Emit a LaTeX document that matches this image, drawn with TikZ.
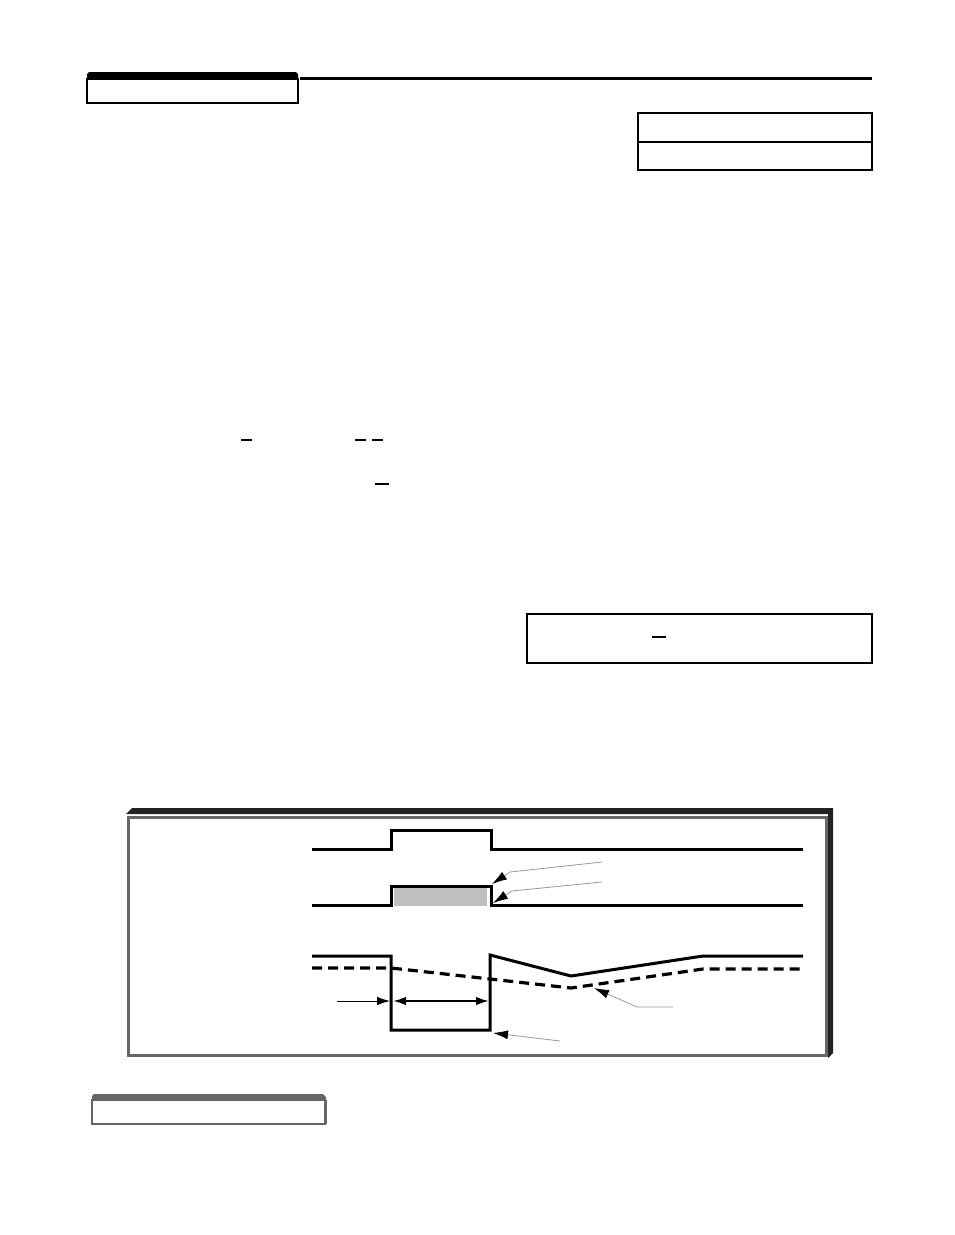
\documentclass[tikz,border=0pt]{standalone}
\usetikzlibrary{arrows.meta}
\definecolor{darkband}{HTML}{222222}
\definecolor{framegray}{HTML}{666666}
\definecolor{fillgray}{HTML}{BFBFBF}
\definecolor{leadgray}{HTML}{999999}
\begin{document}
\begin{tikzpicture}[x=1pt,y=-1pt,
  thinbox/.style={draw=black,line width=1.2},
  sig/.style={draw=black,line width=3,line join=miter},
  dashsig/.style={draw=black,line width=3.2,dash pattern=on 10 off 6},
  bar/.style={draw=black,line width=1.8},
  leader/.style={draw=leadgray,line width=0.8,-{Latex[length=15,width=9,color=black]}},
  dimarrow/.style={draw=black,line width=2,{Latex[length=13,width=8.5]}-{Latex[length=13,width=8.5]}}
]
\useasboundingbox (0,0) rectangle (954,1235);

% ---- top heading tab and rule
\fill[black] (87,79) -- (87,74) -- (89,72) -- (296,72) -- (298,74) -- (298,79) -- cycle;
\draw[thinbox] (87,79) rectangle (298,103);
\draw[line width=3] (300,78.5) -- (872,78.5);

% ---- small table at top right
\draw[thinbox] (638,113) rectangle (872,170);
\draw[thinbox] (638,142) -- (872,142);

% ---- overbars
\draw[bar] (241,440) -- (252,440);
\draw[bar] (355,440) -- (366,440);
\draw[bar] (372,440) -- (383,440);
\draw[bar] (375,484) -- (389,484);

% ---- boxed formula
\draw[thinbox] (527,614) rectangle (872,663);
\draw[line width=2] (652,637) -- (666,637);

% ---- figure frame
\fill[darkband] (126,814) -- (132,808) -- (833,808) -- (833,1053) -- (828,1058) -- (828,814) -- cycle;
\draw[framegray,line width=3] (128.5,817.5) rectangle (826.5,1055.5);

% ---- row 1 signal
\draw[sig] (312,849) -- (391,849) -- (391,830) -- (491,830) -- (491,849) -- (803,849);

% ---- row 2 signal with shaded pulse
\fill[fillgray] (394,888) rectangle (487,906);
\draw[sig] (312,905) -- (391,905) -- (391,886) -- (491,886) -- (491,905) -- (803,905);

% ---- row 3 signals
\draw[dashsig] (312,968) -- (391,968) -- (571,988) -- (703,969) -- (803,969);
\draw[sig] (312,956) -- (391,956) -- (391,1030) -- (490,1030) -- (490,955) -- (571,976) -- (703,956) -- (803,956);

% ---- leader arrows
\coordinate (la1) at (602,862);
\coordinate (lb1) at (510,872);
\coordinate (lt1) at (492,884);
\draw[leader] (la1) -- (lb1) -- (lt1);

\coordinate (la2) at (602,882);
\coordinate (lb2) at (512,891);
\coordinate (lt2) at (493,903);
\draw[leader] (la2) -- (lb2) -- (lt2);

\coordinate (la3) at (673,1007);
\coordinate (lb3) at (637,1007);
\coordinate (lt3) at (594,988);
\draw[leader] (la3) -- (lb3) -- (lt3);

\coordinate (la4) at (560,1041);
\coordinate (lt4) at (493,1033);
\draw[leader] (la4) -- (lt4);

% ---- dimension arrows
\coordinate (da) at (337,1001);
\coordinate (db) at (390,1001);
\draw[line width=1,-{Latex[length=13,width=8.5]}] (da) -- (db);
\coordinate (dc) at (393,1001);
\coordinate (dd) at (489,1001);
\draw[dimarrow] (dc) -- (dd);

% ---- bottom heading tab
\fill[framegray] (92,1100) -- (92,1096) -- (94,1094) -- (323,1094) -- (326,1097) -- (326,1100) -- cycle;
\draw[framegray,line width=1.2] (92,1100) rectangle (325,1124);
\draw[framegray,line width=2] (325.5,1100) -- (325.5,1124);
\end{tikzpicture}
\end{document}
